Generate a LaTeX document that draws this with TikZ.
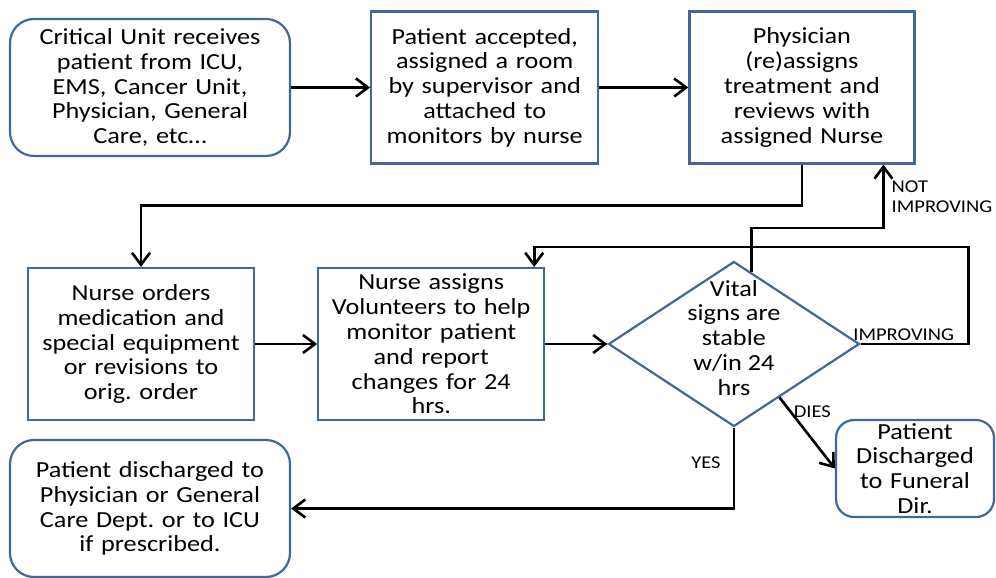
\documentclass[tikz,border=0pt]{standalone}
\usepackage{fontspec}
\setmainfont{Carlito}[FakeStretch=1.14]
\usetikzlibrary{positioning, shapes.geometric, arrows.meta, calc}

\definecolor{boxblue}{RGB}{66,103,152}
\frenchspacing

\begin{document}
\begin{tikzpicture}[x=1pt, y=1pt, node distance=62pt, semithick,
    >={Straight Barb[length=12pt,width=18pt]},
    every node/.style={font=\fontsize{23}{24.8}\selectfont},
    stage/.style={draw=boxblue, line width=2.2pt, inner sep=0pt, align=center,
      text width=220pt, minimum width=226pt, minimum height=152pt},
    endpoint/.style={stage, rounded corners=24pt, text width=272pt,
      minimum width=280pt, minimum height=137pt},
    decision/.style={diamond, draw=boxblue, line width=2.2pt, inner sep=0pt,
      minimum width=251pt, minimum height=165pt},
    flow/.style={->, line width=2.6pt},
    cond/.style={font=\fontsize{18}{20}\selectfont, inner sep=2pt}]
  \useasboundingbox (0,0) rectangle (996,578);

  % top row
  \node[endpoint] (receive) at (150,490.5) {Critical Unit receives\\patient from ICU,\\EMS, Cancer Unit,\\Physician, General\\Care, etc\dots};
  \node[stage, minimum width=227pt] (accept) [right=79pt of receive] {Patient accepted,\\assigned a room\\by supervisor and\\attached to\\monitors by nurse};
  \node[stage, minimum width=225pt] (physician) [right=89pt of accept] {Physician\\(re)assigns\\treatment and\\reviews with\\assigned Nurse};

  % middle row
  \node[stage] (orders) at (141,234) {Nurse orders\\medication and\\special equipment\\or revisions to\\orig. order};
  \node[stage] (volunteers) [right=of orders] {Nurse assigns\\Volunteers to help\\monitor patient\\and report\\changes for 24\\hrs.};
  \node[decision] (vital) [right=of volunteers] {\smash{\parbox[c]{130pt}{\centering Vital\\signs are\\stable\\w/in 24\\hrs}}};

  % outcomes
  \node[endpoint] (discharge) at (150,69.5) {Patient discharged to\\Physician or General\\Care Dept. or to ICU\\if prescribed.};
  \node[endpoint, rounded corners=18pt, text width=154pt, minimum width=158pt, minimum height=97pt] (funeral) at (915,109.5) {Patient\\Discharged\\to Funeral\\Dir.};

  \draw[flow] (receive) -- (accept);
  \draw[flow] (accept) -- (physician);
  \draw[flow] (physician.south) -- ++(0,-41) -| (orders.north);
  \draw[flow] (orders) -- (volunteers);
  \draw[flow] (volunteers) -- (vital);
  \draw[flow] ($(vital.north)!0.14!(vital.east)$) -- ++(0,44) -| node[cond, right=5pt, align=left, pos=0.75] {NOT\\IMPROVING} ([xshift=81.5pt]physician.south);
  \draw[flow] (vital.east) -| node[cond, above, pos=0.2] {IMPROVING} ++(108,97) -| ([xshift=103pt]volunteers.north);
  \draw[flow] (vital.south) |- node[cond, left=10pt, pos=0.22] {YES} (discharge.east);
  \draw[flow] ($(vital.south)!0.36!(vital.east)$) -- node[cond, right, pos=0.2] {DIES} (funeral.west);
\end{tikzpicture}
\end{document}
